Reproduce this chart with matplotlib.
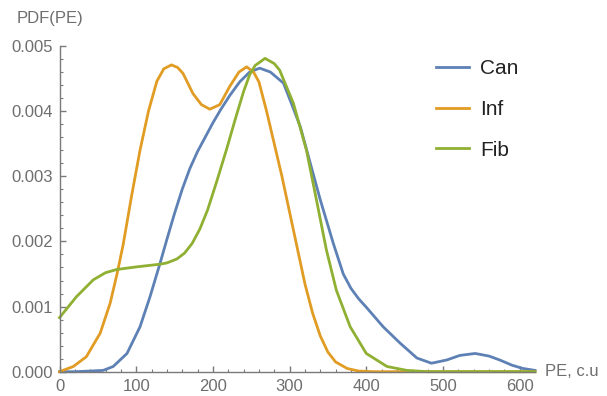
import matplotlib
matplotlib.use("Agg")
import matplotlib.pyplot as plt
from matplotlib.ticker import MultipleLocator, FormatStrFormatter

plt.rcParams['font.family'] = ['Liberation Sans', 'DejaVu Sans']

# values
can_x = [0, 20, 40, 57, 70, 88, 105, 118, 131, 140, 150, 160, 170, 180, 190,
         200, 210, 222, 235, 248, 261, 275, 292, 303, 314, 327, 340, 357, 370,
         380, 390, 400, 422, 444, 466, 485, 505, 522, 542, 560, 574, 590, 604,
         620]
can_y = [0, 0, 0.00001, 0.00002, 0.00008, 0.00028, 0.00069, 0.00115, 0.00166,
         0.00203, 0.00243, 0.0028, 0.00312, 0.00338, 0.0036, 0.00382, 0.00402,
         0.00424, 0.00445, 0.0046, 0.00466, 0.0046, 0.00443, 0.0041, 0.00376,
         0.0032, 0.00264, 0.00197, 0.0015, 0.00128, 0.00112, 0.00099, 0.00069,
         0.00044, 0.00021, 0.00013, 0.00018, 0.00025, 0.00028, 0.00024,
         0.00018, 0.0001, 0.00005, 0.00002]

inf_x = [0, 18, 35, 53, 66, 75, 83, 94, 105, 116, 127, 136, 146, 154, 161,
         174, 185, 196, 209, 222, 234, 244, 253, 260, 270, 280, 290, 300, 310,
         320, 330, 340, 350, 360, 375, 390, 410, 620]
inf_y = [0, 0.00008, 0.00023, 0.00059, 0.00105, 0.0015, 0.00195, 0.0027,
         0.0034, 0.004, 0.00446, 0.00465, 0.00471, 0.00467, 0.00458, 0.00427,
         0.0041, 0.00403, 0.0041, 0.00438, 0.0046, 0.00468, 0.0046, 0.00445,
         0.004, 0.0035, 0.003, 0.00245, 0.0019, 0.00135, 0.0009, 0.00055,
         0.0003, 0.00015, 0.00005, 0.00001, 0, 0]

fib_x = [0, 22, 44, 60, 75, 101, 131, 140, 153, 163, 173, 183, 193, 205, 218,
         229, 240, 248, 255, 268, 280, 287, 305, 322, 335, 348, 361, 379, 400,
         427, 453, 480, 620]
fib_y = [0.00083, 0.00115, 0.00141, 0.00152, 0.00157, 0.00161, 0.00165,
         0.00167, 0.00173, 0.00182, 0.00197, 0.00219, 0.00248, 0.00292,
         0.00342, 0.00387, 0.0043, 0.00456, 0.0047, 0.00481, 0.00473, 0.00463,
         0.00412, 0.0034, 0.00264, 0.00187, 0.00125, 0.00069, 0.00028, 0.00008,
         0.00002, 0, 0]

colors = {'Can': '#5E81B5', 'Inf': '#E19C24', 'Fib': '#8FB032'}
axis_gray = '#7a7a7a'
text_gray = '#6e6e6e'

fig = plt.figure(figsize=(6.07, 3.96), dpi=100)
ax = fig.add_axes([59.5 / 607, (396 - 371.7) / 396, 475.5 / 607, 325.7 / 396])

ax.plot(can_x, can_y, color=colors['Can'], lw=2, label='Can', clip_on=False)
ax.plot(inf_x, inf_y, color=colors['Inf'], lw=2, label='Inf', clip_on=False)
ax.plot(fib_x, fib_y, color=colors['Fib'], lw=2, label='Fib', clip_on=False)

ax.set_xlim(0, 620)
ax.set_ylim(0, 0.005)
ax.spines['top'].set_visible(False)
ax.spines['right'].set_visible(False)
for s in ['left', 'bottom']:
    ax.spines[s].set_color(axis_gray)
    ax.spines[s].set_linewidth(1.0)

ax.xaxis.set_major_locator(MultipleLocator(100))
ax.xaxis.set_minor_locator(MultipleLocator(20))
ax.yaxis.set_major_locator(MultipleLocator(0.001))
ax.yaxis.set_minor_locator(MultipleLocator(0.0002))
ax.yaxis.set_major_formatter(FormatStrFormatter('%.3f'))
ax.tick_params(which='major', direction='in', length=4, width=1, color=axis_gray,
               labelcolor=text_gray, labelsize=12, pad=5)
ax.tick_params(which='minor', direction='in', length=2.2, width=0.8, color=axis_gray)

fig.text(50 / 607, 1 - 18 / 396, 'PDF(PE)', ha='center', va='center',
         fontsize=12, color=text_gray)
fig.text(545 / 607, 1 - 372 / 396, 'PE, c.u', ha='left', va='center',
         fontsize=12, color=text_gray)

leg = ax.legend(loc='upper left', bbox_to_anchor=(436 / 607, 1 - 59 / 396),
                bbox_transform=fig.transFigure, frameon=False, fontsize=15,
                handlelength=1.6, handletextpad=0.5, labelspacing=1.05,
                borderpad=0, borderaxespad=0)
for t in leg.get_texts():
    t.set_color('#222222')

fig.savefig('out.png', dpi=100)
